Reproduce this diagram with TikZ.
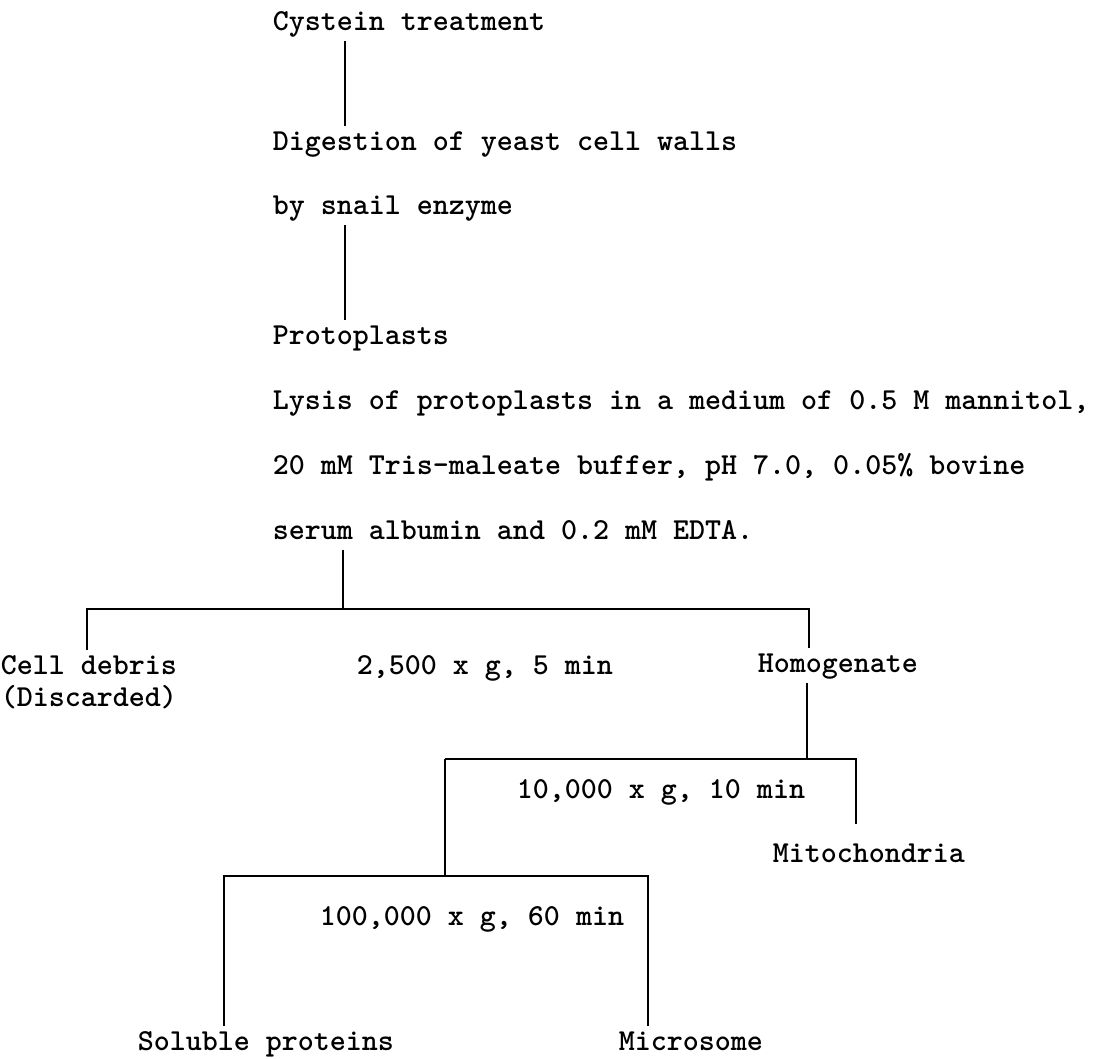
\documentclass[tikz,border=0pt]{standalone}
\usepackage{fontspec}
\begin{document}
\begin{tikzpicture}[x=1pt, y=-1pt, line width=1.6pt,
  txt/.style={anchor=base west, inner xsep=0pt, inner ysep=6pt,
    text height=17pt, text depth=4pt,
    font=\ttfamily\bfseries\fontsize{30.5}{36}\selectfont}]
\useasboundingbox (0,0) rectangle (1110,1058);
\node[txt] (cys) at (272,30) {Cystein treatment};
\node[txt] (dig) at (272,150) {Digestion of yeast cell walls};
\node[txt] (snail) at (272,214) {by snail enzyme};
\node[txt] (proto) at (272,344) {Protoplasts};
\node[txt] (lysis) at (272,409) {Lysis of protoplasts in a medium of 0.5 M mannitol,};
\node[txt] (buffer) at (272,474) {20 mM Tris-maleate buffer, pH 7.0, 0.05\% bovine};
\node[txt] (serum) at (272,539) {serum albumin and 0.2 mM EDTA.};
\node[txt] (debris) at (0,674) {Cell debris};
\node[txt] (disc) at (0,706) {(Discarded)};
\node[txt] (spin1) at (356,674) {2,500 x g, 5 min};
\node[txt] (homog) at (757,672) {Homogenate};
\node[txt] (spin2) at (516,798) {10,000 x g, 10 min};
\node[txt] (mito) at (772,862) {Mitochondria};
\node[txt] (spin3) at (319,925) {100,000 x g, 60 min};
\node[txt] (sol) at (137,1050) {Soluble proteins};
\node[txt] (micro) at (618,1050) {Microsome};

\coordinate (col) at (345,0);
\draw (cys.south -| col) -- (dig.north -| col);
\draw (snail.south -| col) -- (proto.north -| col);

\coordinate (fork1) at (343,609);
\coordinate (fork1l) at (87,609);
\coordinate (fork1r) at (809,609);
\draw (serum.south -| fork1) -- (fork1);
\draw (debris.north -| fork1l) -- (fork1l) -- (fork1r) -- (homog.north -| fork1r);

\coordinate (fork2) at (807,759);
\coordinate (fork2l) at (445,759);
\coordinate (fork2r) at (856,759);
\draw (homog.south -| fork2) -- (fork2);
\draw (fork2l) -- (fork2r) -- ([yshift=14pt]mito.north -| fork2r);

\coordinate (fork3) at (445,876);
\coordinate (fork3l) at (224,876);
\coordinate (fork3r) at (648,876);
\draw (fork2l) -- (fork3);
\draw (sol.north -| fork3l) -- (fork3l) -- (fork3r) -- (micro.north -| fork3r);
\end{tikzpicture}
\end{document}
